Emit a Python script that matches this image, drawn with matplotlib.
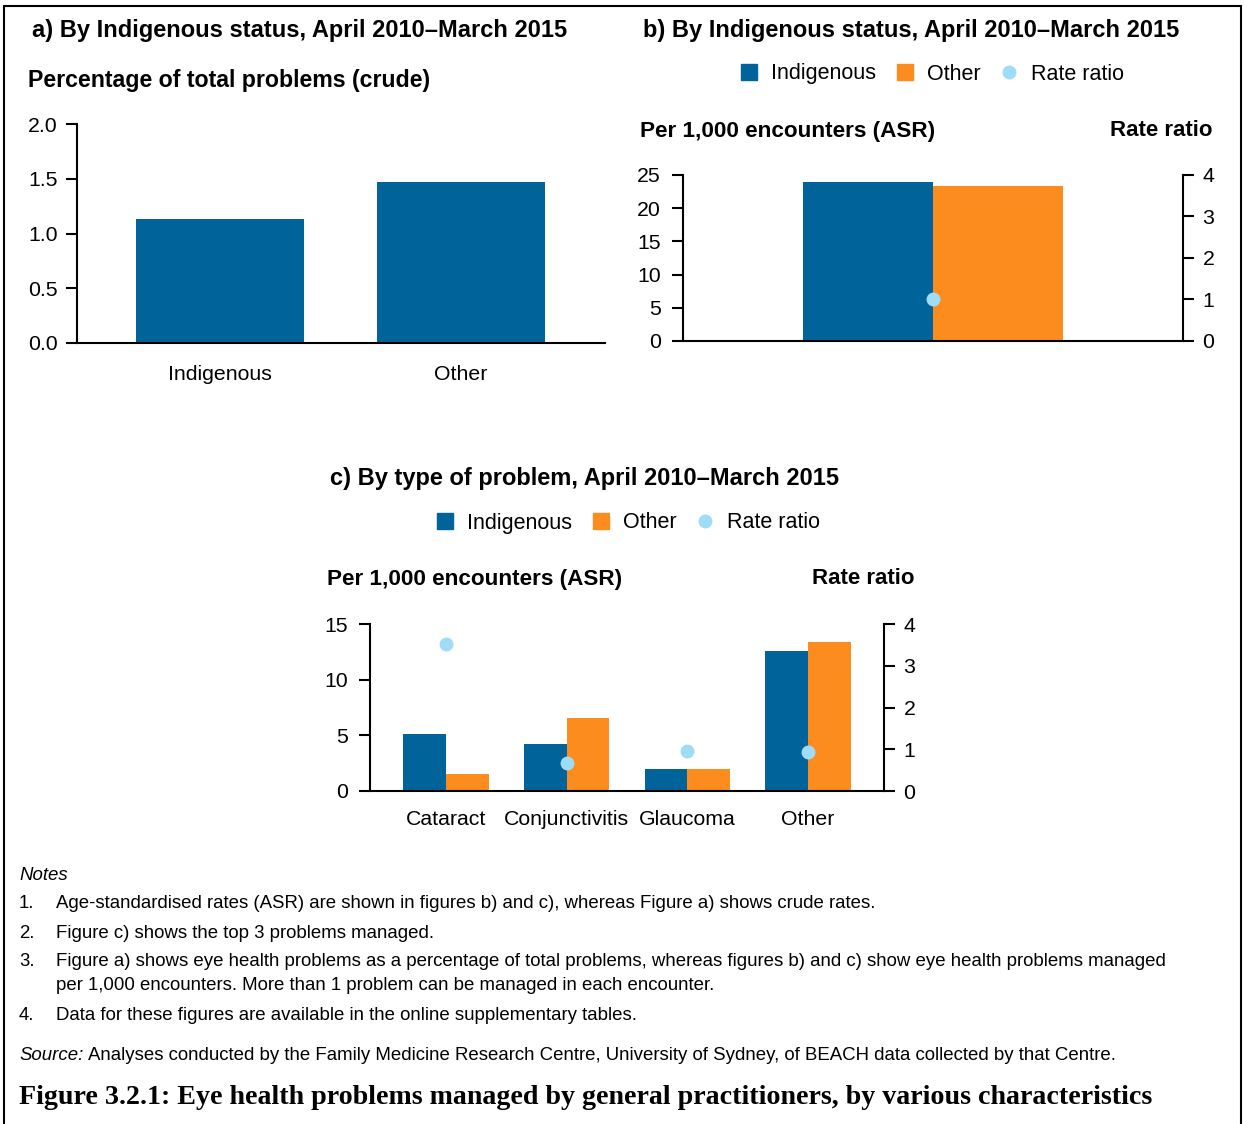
import matplotlib
matplotlib.use("Agg")
import matplotlib.pyplot as plt
from matplotlib.patches import Patch, Rectangle
from matplotlib.lines import Line2D
import numpy as np

# dane
kategorie_a = ["Indigenous", "Other"]
procent_a = [1.13, 1.47]

asr_b_indig = [23.9]
asr_b_other = [23.4]
ratio_b = [1.0]

problemy_c = ["Cataract", "Conjunctivitis", "Glaucoma", "Other"]
asr_c_indig = [5.15, 4.25, 1.95, 12.6]
asr_c_other = [1.5, 6.55, 1.95, 13.4]
ratio_c = [3.52, 0.68, 0.97, 0.94]

noty = [
    ("1.", ["Age-standardised rates (ASR) are shown in figures b) and c), whereas Figure a) shows crude rates."]),
    ("2.", ["Figure c) shows the top 3 problems managed."]),
    ("3.", ["Figure a) shows eye health problems as a percentage of total problems, whereas figures b) and c) show eye health problems managed",
            "per 1,000 encounters. More than 1 problem can be managed in each encounter."]),
    ("4.", ["Data for these figures are available in the online supplementary tables."]),
]

NIEBIESKI = "#00649b"
POMARANCZ = "#fd8c1e"
JASNY = "#9fdcf8"

W, H = 1244, 1124
FS_TICK = 15.3
FS_NOTE = 13.4
plt.rcParams["font.family"] = ["Liberation Sans", "DejaVu Sans"]
plt.rcParams["font.size"] = FS_TICK
plt.rcParams["axes.linewidth"] = 1.5

fig = plt.figure(figsize=(W / 100, H / 100), dpi=100)


def prostokat(x0, y0, x1, y1):
    return [x0 / W, 1 - y1 / H, (x1 - x0) / W, (y1 - y0) / H]


def tekst(x, y, s, **kw):
    kw.setdefault("va", "center")
    return fig.text(x / W, 1 - y / H, s, **kw)


def styl_osi(ax):
    for s in ["top", "right"]:
        ax.spines[s].set_visible(False)
    ax.tick_params(axis="y", length=8, width=1.5, pad=6, labelsize=FS_TICK)
    ax.tick_params(axis="x", length=0, pad=16, labelsize=FS_TICK)


def prawa_os(ax):
    for s in ["top", "left", "bottom"]:
        ax.spines[s].set_visible(False)
    ax.set_ylim(0, 4)
    ax.set_yticks([0, 1, 2, 3, 4])
    ax.tick_params(axis="y", length=8, width=1.5, pad=6, labelsize=FS_TICK)


# ramka
fig.patches.append(Rectangle((4 / W, -0.05), 1237 / W, 1.05 - 6 / H, transform=fig.transFigure,
                             fill=False, edgecolor="black", linewidth=1.5))

# ---------- a) ----------
ax_a = fig.add_axes(prostokat(77, 124, 605, 343))
x = np.arange(len(kategorie_a))
ax_a.bar(x, procent_a, width=0.70, color=NIEBIESKI)
ax_a.set_ylim(0, 2.0)
ax_a.set_yticks([0, 0.5, 1.0, 1.5, 2.0])
ax_a.set_yticklabels(["0.0", "0.5", "1.0", "1.5", "2.0"])
ax_a.set_xlim(-0.593, 1.598)
ax_a.set_xticks(x)
ax_a.set_xticklabels(kategorie_a)
styl_osi(ax_a)
ax_a.tick_params(axis="x", pad=16)

tekst(32, 30, "a) By Indigenous status, April 2010\u2013March 2015", fontsize=17, fontweight="bold")
tekst(28, 80, "Percentage of total problems (crude)", fontsize=16.7, fontweight="bold")

# ---------- b) ----------
w = 0.35
ax_b = fig.add_axes(prostokat(683, 175, 1183, 341))
xb = np.arange(1)
ax_b.bar(xb - w / 2, asr_b_indig, width=w, color=NIEBIESKI)
ax_b.bar(xb + w / 2, asr_b_other, width=w, color=POMARANCZ)
ax_b.set_ylim(0, 25)
ax_b.set_yticks([0, 5, 10, 15, 20, 25])
ax_b.set_xlim(-0.673, 0.673)
ax_b.set_xticks([])
styl_osi(ax_b)
ax_b.tick_params(axis="y", pad=8)
ax_b2 = ax_b.twinx()
ax_b2.plot(xb, ratio_b, "o", color=JASNY, markersize=9, zorder=5)
prawa_os(ax_b2)

tekst(643, 30, "b) By Indigenous status, April 2010\u2013March 2015", fontsize=17, fontweight="bold")
tekst(640, 131, "Per 1,000 encounters (ASR)", fontsize=16.2, fontweight="bold")
tekst(1213, 131, "Rate ratio", fontsize=16, fontweight="bold", ha="right")

uchwyty = [Patch(color=NIEBIESKI), Patch(color=POMARANCZ),
           Line2D([], [], marker="o", linestyle="none", color=JASNY, markersize=9)]
etykiety = ["Indigenous", "Other", "Rate ratio"]
leg_kw = dict(ncol=3, frameon=False, fontsize=15.5, handlelength=0.75, handleheight=0.75,
              handletextpad=0.65, columnspacing=0.95, loc="center left", borderaxespad=0, borderpad=0)
fig.legend(uchwyty, etykiety, bbox_to_anchor=(741 / W, 1 - 74 / H), **leg_kw)

# ---------- c) ----------
ax_c = fig.add_axes(prostokat(370, 624, 884, 791))
xc = np.arange(len(problemy_c))
wc = 0.355
ax_c.bar(xc - wc / 2, asr_c_indig, width=wc, color=NIEBIESKI)
ax_c.bar(xc + wc / 2, asr_c_other, width=wc, color=POMARANCZ)
ax_c.set_ylim(0, 15)
ax_c.set_yticks([0, 5, 10, 15])
ax_c.set_xlim(-0.628, 3.628)
ax_c.set_xticks(xc)
ax_c.set_xticklabels(problemy_c)
styl_osi(ax_c)
ax_c.tick_params(axis="y", pad=8)
ax_c.tick_params(axis="x", pad=14)
ax_c2 = ax_c.twinx()
ax_c2.plot(xc, ratio_c, "o", color=JASNY, markersize=9, zorder=5)
prawa_os(ax_c2)

tekst(330, 479, "c) By type of problem, April 2010\u2013March 2015", fontsize=17, fontweight="bold")
tekst(327, 579, "Per 1,000 encounters (ASR)", fontsize=16.2, fontweight="bold")
tekst(914, 579, "Rate ratio", fontsize=16, fontweight="bold", ha="right")
fig.legend(uchwyty, etykiety, bbox_to_anchor=(437 / W, 1 - 523 / H), **leg_kw)

# ---------- notes ----------
tekst(19, 875, "Notes", fontsize=FS_NOTE, style="italic")
ys = [903, 933, 962, 1015]
for (nr, linie), y in zip(noty, ys):
    tekst(19, y, nr, fontsize=FS_NOTE)
    for i, linia in enumerate(linie):
        tekst(56, y + 23 * i, linia, fontsize=FS_NOTE)
tekst(19, 1055, "Source:", fontsize=FS_NOTE, style="italic")
tekst(88, 1055, "Analyses conducted by the Family Medicine Research Centre, University of Sydney, of BEACH data collected by that Centre.",
      fontsize=FS_NOTE)
tekst(19, 1098, "Figure 3.2.1: Eye health problems managed by general practitioners, by various characteristics",
      fontsize=20.2, fontweight="bold", family="Liberation Serif")

fig.savefig("out.png", dpi=100)
